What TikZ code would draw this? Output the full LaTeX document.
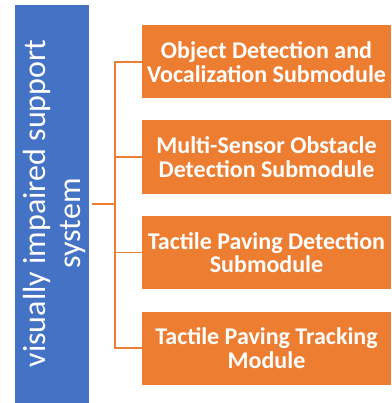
\documentclass[tikz,border=0pt]{standalone}
\usepackage{fontspec}
\setmainfont{Carlito}
\definecolor{sysblue}{HTML}{4472C4}
\definecolor{modorange}{HTML}{ED7D31}
\begin{document}
\begin{tikzpicture}[x=1pt,y=1pt,
  sysbox/.style={draw=none, fill=sysblue, minimum width=74pt, minimum height=398pt, inner sep=0pt},
  modbox/.style={draw=none, fill=modorange, minimum width=249pt, minimum height=73pt, inner sep=0pt,
    text=white, font=\fontsize{24}{23.5}\selectfont\bfseries, align=center},
  conn/.style={draw=modorange, line width=1.5pt}]
\useasboundingbox (0,0) rectangle (391,-403);
\fill[white] (0,0) rectangle (391,-403);
\node[sysbox] (sys) at (52,-204) {};
\node[text=white, rotate=90, font=\fontsize{32}{35}\selectfont, align=center, inner sep=0pt] (systxt) at (54,-203.5)
  {visually impaired support\\system\hspace*{40pt}};
\node[modbox] (m1) at (266.5,-62) {Object Detection and\\Vocalization Submodule};
\node[modbox] (m2) at (266.5,-157) {Multi-Sensor Obstacle\\Detection Submodule};
\node[modbox] (m3) at (266.5,-252.5) {Tactile Paving Detection\\Submodule};
\node[modbox] (m4) at (266.5,-348) {Tactile Paving Tracking\\Module};
\coordinate (bus) at (115,-204);
\draw[conn, shorten <=3pt] (sys.east) -- (bus);
\draw[conn] (m1.west) -- (m1.west -| bus) -- (m4.west -| bus) -- (m4.west);
\draw[conn] (m2.west) -- (m2.west -| bus);
\draw[conn] (m3.west) -- (m3.west -| bus);
\end{tikzpicture}
\end{document}
